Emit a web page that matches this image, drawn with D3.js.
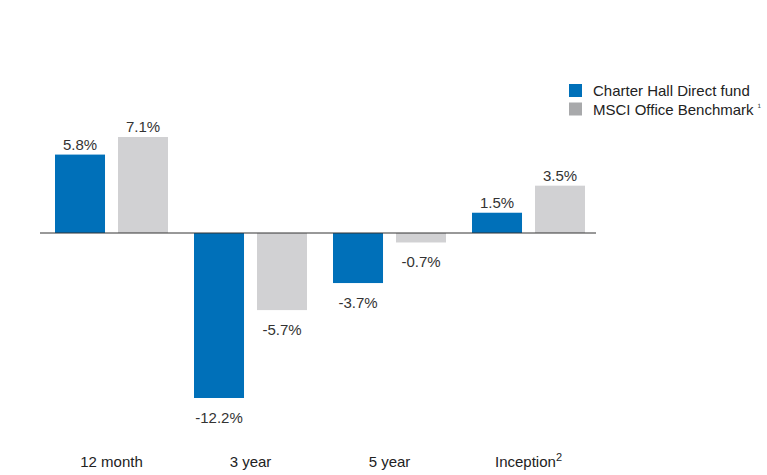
<!DOCTYPE html>
<html>
<head>
<meta charset="utf-8">
<script src="https://cdn.jsdelivr.net/npm/d3@7"></script>
<style>
  body { margin: 0; background: #fff; }
  svg { display: block; font-family: "Liberation Sans", Arial, sans-serif; }
</style>
</head>
<body>
<div id="chart"></div>
<script>
// chart data
var categories = ["12 month", "3 year", "5 year", "Inception"];
var categorySup = ["", "", "", "2"];
var series = ["Charter Hall Direct fund", "MSCI Office Benchmark"];
var seriesSup = ["", "\u00b9"];
var fundValues = [5.8, -12.2, -3.7, 1.5];
var benchmarkValues = [7.1, -5.7, -0.7, 3.5];

var barColors = ["#0070b9", "#d1d1d3"];
var legendColors = ["#0070b9", "#a8a9ab"];

var width = 767, height = 475;
var svg = d3.select("#chart").append("svg")
  .attr("width", width)
  .attr("height", height);

var x0 = d3.scaleBand().domain(categories).range([40, 596]);
var x1 = d3.scaleBand().domain(series).range([15, 128]).paddingInner(0.206);
var y = d3.scaleLinear().domain([-12.2, 7.1]).range([398, 137]);

var rows = categories.map(function (c, i) {
  return { cat: c, vals: [fundValues[i], benchmarkValues[i]] };
});

var groups = svg.selectAll(".grp")
  .data(rows)
  .enter()
  .append("g")
  .attr("class", "grp")
  .attr("transform", function (d) { return "translate(" + x0(d.cat) + ",0)"; });

groups.selectAll("rect")
  .data(function (d) { return d.vals.map(function (v, j) { return { s: series[j], v: v, j: j }; }); })
  .enter()
  .append("rect")
  .attr("x", function (d) { return x1(d.s); })
  .attr("width", x1.bandwidth())
  .attr("y", function (d) { return y(Math.max(0, d.v)); })
  .attr("height", function (d) { return Math.abs(y(d.v) - y(0)); })
  .attr("fill", function (d) { return barColors[d.j]; });

// value labels
groups.selectAll(".val")
  .data(function (d) { return d.vals.map(function (v, j) { return { s: series[j], v: v }; }); })
  .enter()
  .append("text")
  .attr("class", "val")
  .attr("x", function (d) { return x1(d.s) + x1.bandwidth() / 2; })
  .attr("y", function (d) { return d.v >= 0 ? y(d.v) - 5 : y(d.v) + 25; })
  .attr("text-anchor", "middle")
  .attr("font-size", 15)
  .attr("fill", "#333")
  .text(function (d) { return d.v.toFixed(1) + "%"; });

// zero line
svg.append("line")
  .attr("x1", 40).attr("x2", 596)
  .attr("y1", y(0)).attr("y2", y(0))
  .attr("stroke", "#333")
  .attr("stroke-width", 1);

// category labels
var catText = svg.selectAll(".cat")
  .data(categories)
  .enter()
  .append("text")
  .attr("class", "cat")
  .attr("x", function (d) { return x0(d) + 15 + 113 / 2; })
  .attr("y", 467)
  .attr("text-anchor", "middle")
  .attr("font-size", 15)
  .attr("fill", "#222");
catText.append("tspan").text(function (d) { return d; });
catText.append("tspan")
  .attr("dy", -6)
  .attr("font-size", 11)
  .text(function (d, i) { return categorySup[i]; });

// legend
var legend = svg.selectAll(".leg")
  .data(series)
  .enter()
  .append("g")
  .attr("class", "leg")
  .attr("transform", function (d, i) { return "translate(569," + (84 + i * 18.5) + ")"; });

legend.append("rect")
  .attr("width", 13).attr("height", 13)
  .attr("fill", function (d, i) { return legendColors[i]; });

legend.append("text")
  .attr("x", 24)
  .attr("y", 12)
  .attr("font-size", 15)
  .attr("fill", "#222")
  .text(function (d, i) { return d + (seriesSup[i] ? " " : ""); })
  .append("tspan")
  .attr("dy", -5)
  .attr("font-size", 9)
  .text(function (d, i) { return seriesSup[i]; });
</script>
</body>
</html>
